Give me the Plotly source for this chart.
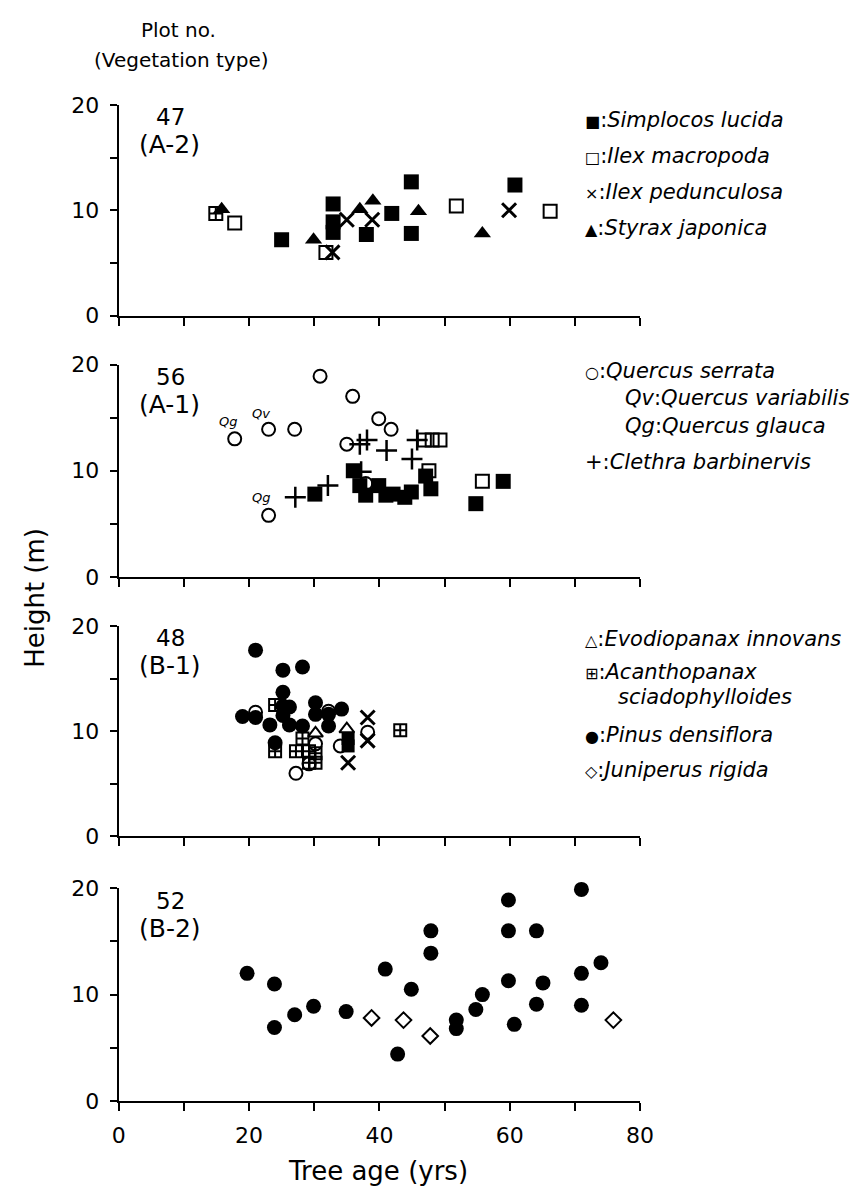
import plotly.graph_objects as go

# ---------------- data (tree age in yrs, height in m) ----------------
# Plot 47 (A-2)
p47_simplocos_age = [25.0, 32.9, 32.9, 32.9, 38.0, 41.9, 44.9, 44.9, 60.8]
p47_simplocos_h = [7.2, 10.6, 8.9, 7.9, 7.7, 9.7, 12.7, 7.8, 12.4]
p47_macropoda_age = [17.8, 31.8, 51.8, 66.2]
p47_macropoda_h = [8.8, 6.0, 10.4, 9.9]
p47_acanthopanax_age = [14.9]
p47_acanthopanax_h = [9.7]
p47_pedunculosa_age = [32.8, 35.0, 38.9, 59.9]
p47_pedunculosa_h = [6.0, 9.1, 9.1, 10.0]
p47_styrax_age = [15.8, 29.9, 37.0, 39.0, 46.0, 55.8]
p47_styrax_h = [10.1, 7.2, 10.1, 10.9, 9.9, 7.8]

# Plot 56 (A-1)
p56_serrata_age = [30.9, 35.9, 39.9, 41.8, 23.0, 27.0, 17.8, 35.0, 23.0, 37.9]
p56_serrata_h = [18.9, 17.0, 14.9, 13.9, 13.9, 13.9, 13.0, 12.5, 5.8, 8.8]
p56_macropoda_age = [46.9, 48.1, 49.3, 47.6, 55.8]
p56_macropoda_h = [12.9, 12.9, 12.9, 10.0, 9.0]
p56_simplocos_age = [30.1, 36.0, 37.0, 37.9, 39.9, 41.0, 42.1, 43.9, 44.9, 47.1, 47.9, 54.8, 59.0]
p56_simplocos_h = [7.8, 10.0, 8.6, 7.7, 8.6, 7.7, 7.8, 7.5, 8.0, 9.5, 8.3, 6.9, 9.0]
p56_clethra_age = [27.1, 32.1, 37.2, 37.0, 38.1, 41.1, 45.0, 45.8]
p56_clethra_h = [7.5, 8.6, 9.9, 12.5, 12.9, 11.9, 11.1, 12.9]
p56_label_text = ["Qg", "Qv", "Qg"]
p56_label_age = [16.8, 21.8, 21.8]
p56_label_h = [14.6, 15.4, 7.5]

# Plot 48 (B-1)
p48_pinus_age = [21.0, 25.2, 28.2, 25.2, 19.0, 21.0, 23.2, 25.2, 26.2, 25.2, 26.2, 28.2,
                 30.2, 30.2, 32.2, 32.2, 34.2, 24.0]
p48_pinus_h = [17.7, 15.8, 16.1, 13.7, 11.4, 11.3, 10.6, 12.4, 12.3, 11.5, 10.6, 10.5,
               12.7, 11.6, 11.6, 10.5, 12.1, 8.9]
p48_serrata_age = [21.0, 27.2, 29.2, 30.2, 32.2, 34.0, 38.2]
p48_serrata_h = [11.8, 6.0, 6.9, 8.8, 11.9, 8.6, 9.9]
p48_acanthopanax_age = [24.0, 24.0, 27.2, 28.2, 29.2, 30.2, 29.2, 30.2, 43.2]
p48_acanthopanax_h = [12.5, 8.1, 8.1, 9.3, 8.1, 7.9, 7.0, 7.0, 10.1]
p48_evodiopanax_age = [30.2, 35.0]
p48_evodiopanax_h = [9.8, 10.2]
p48_pedunculosa_age = [38.2, 38.2, 35.2]
p48_pedunculosa_h = [11.3, 9.1, 7.0]
p48_simplocos_age = [35.2, 35.2]
p48_simplocos_h = [8.6, 9.3]

# Plot 52 (B-2)
p52_pinus_age = [19.7, 23.9, 23.9, 27.0, 29.9, 34.9, 40.9, 42.8, 44.9, 47.9, 47.9, 51.8, 51.8,
                 54.8, 55.8, 59.8, 59.8, 59.8, 60.7, 64.1, 64.1, 65.1, 71.0, 71.0, 71.0, 74.0]
p52_pinus_h = [12.0, 11.0, 6.9, 8.1, 8.9, 8.4, 12.4, 4.4, 10.5, 16.0, 13.9, 7.6, 6.8,
               8.6, 10.0, 18.9, 16.0, 11.3, 7.2, 16.0, 9.1, 11.1, 19.9, 12.0, 9.0, 13.0]
p52_juniperus_age = [38.8, 43.7, 47.8, 75.9]
p52_juniperus_h = [7.8, 7.6, 6.1, 7.6]

panel_numbers = ["47", "56", "48", "52"]
panel_types = ["(A-2)", "(A-1)", "(B-1)", "(B-2)"]
x_tick_vals = [0, 10, 20, 30, 40, 50, 60, 70, 80]
x_tick_text = ["0", "", "20", "", "40", "", "60", "", "80"]
y_tick_vals = [0, 5, 10, 15, 20]
y_tick_text = ["0", "", "10", "", "20"]

legend_47 = [("■", "Simplocos lucida"), ("□", "Ilex macropoda"),
             ("×", "Ilex pedunculosa"), ("▲", "Styrax japonica")]
legend_48 = [("△", "Evodiopanax innovans"), ("⊞", "Acanthopanax"),
             ("", "sciadophylloides"), ("●", "Pinus densiflora"), ("◇", "Juniperus rigida")]

# ---------------- layout geometry ----------------
W, H = 856, 1200
FONT = "DejaVu Sans, Liberation Sans, Arial, sans-serif"
x_left_px, x_right_px = 114.5, 649.0
panel_px = [(95, 310), (360, 577), (627, 842), (895, 1112)]  # (top=20, bottom=0)

fig = go.Figure()

def sty(sym, size=14, lw=2):
    return dict(symbol=sym, size=size, color="black", line=dict(color="black", width=lw))

def add(i, xs, ys, sym, size=14, lw=2):
    ax = "" if i == 0 else str(i + 1)
    fig.add_trace(go.Scatter(x=xs, y=ys, mode="markers", marker=sty(sym, size, lw),
                             xaxis="x" + ax, yaxis="y" + ax, cliponaxis=False,
                             showlegend=False, hoverinfo="x+y"))

# panel 1
add(0, p47_macropoda_age, p47_macropoda_h, "square-open", 13)
add(0, p47_acanthopanax_age, p47_acanthopanax_h, "square-cross-open", 13)
add(0, p47_pedunculosa_age, p47_pedunculosa_h, "x-thin-open", 14, 3)
add(0, p47_styrax_age, p47_styrax_h, "triangle-up", 15, 0)
add(0, p47_simplocos_age, p47_simplocos_h, "square", 15, 0)
# panel 2
add(1, p56_serrata_age, p56_serrata_h, "circle-open", 13)
add(1, p56_macropoda_age, p56_macropoda_h, "square-open", 13)
add(1, p56_clethra_age, p56_clethra_h, "cross-thin-open", 15, 2.5)
add(1, p56_simplocos_age, p56_simplocos_h, "square", 15, 0)
# panel 3
add(2, p48_pinus_age, p48_pinus_h, "circle", 15, 0)
add(2, p48_simplocos_age, p48_simplocos_h, "square", 13, 0)
add(2, p48_serrata_age, p48_serrata_h, "circle-open", 13)
add(2, p48_acanthopanax_age, p48_acanthopanax_h, "square-cross-open", 12)
add(2, p48_evodiopanax_age, p48_evodiopanax_h, "triangle-up-open", 13)
add(2, p48_pedunculosa_age, p48_pedunculosa_h, "x-thin-open", 14, 3)
# panel 4
add(3, p52_pinus_age, p52_pinus_h, "circle", 15, 0)
add(3, p52_juniperus_age, p52_juniperus_h, "diamond-open", 12, 2)

layout = dict(width=W, height=H, margin=dict(l=0, r=0, t=0, b=0),
              paper_bgcolor="white", plot_bgcolor="white",
              font=dict(family=FONT, color="black"), showlegend=False)

axis_common = dict(showline=True, linecolor="black", linewidth=2, ticks="outside",
                   ticklen=7, tickwidth=2, tickcolor="black", showgrid=False,
                   zeroline=False, tickfont=dict(size=22, family=FONT, color="black"))
annotations = []
for i, (top, bot) in enumerate(panel_px):
    ax = "" if i == 0 else str(i + 1)
    xd = [x_left_px / W, x_right_px / W]
    yd = [1 - bot / H, 1 - top / H]
    layout["xaxis" + ax] = dict(axis_common, domain=xd, range=[0, 80], anchor="y" + ax,
                                tickmode="array", tickvals=x_tick_vals,
                                ticktext=x_tick_text if i == 3 else [""] * len(x_tick_vals),
                                ticklen=8, ticklabelstandoff=6)
    layout["yaxis" + ax] = dict(axis_common, domain=yd, range=[0, 20], anchor="x" + ax,
                                tickmode="array", tickvals=y_tick_vals, ticktext=y_tick_text,
                                ticklabelstandoff=6)
    annotations.append(dict(xref="x" + ax, yref="y" + ax, x=7.9, y=18.85, text=panel_numbers[i],
                            showarrow=False, font=dict(size=23), xanchor="center", yanchor="middle"))
    annotations.append(dict(xref="x" + ax, yref="y" + ax, x=7.8, y=16.25, text=panel_types[i],
                            showarrow=False, font=dict(size=25), xanchor="center", yanchor="middle"))

for t, xa, ya in zip(p56_label_text, p56_label_age, p56_label_h):
    annotations.append(dict(xref="x2", yref="y2", x=xa, y=ya, text="<i>%s</i>" % t,
                            showarrow=False, font=dict(size=13), xanchor="center", yanchor="middle"))

def ptext(x, y, text, size=18, xanchor="left"):
    annotations.append(dict(xref="paper", yref="paper", x=x / W, y=1 - y / H, text=text,
                            showarrow=False, font=dict(size=size, family=FONT),
                            xanchor=xanchor, yanchor="middle", align="left"))

def sym(s):
    return '<span style="font-size:16px">%s</span>' % s

# headers and axis titles
ptext(176, 18, "Plot no.", 20, "center")
ptext(178, 49, "(Vegetation type)", 20, "center")
ptext(380, 1184, "Tree age (yrs)", 26, "center")
annotations.append(dict(xref="paper", yref="paper", x=28 / W, y=1 - 598 / H, text="Height (m)",
                        textangle=-90, showarrow=False, font=dict(size=26, family=FONT),
                        xanchor="center", yanchor="middle"))

# legends
LF = 21
for k, (s, name) in enumerate(legend_47):
    ptext(590, 110 + 37 * k, "%s:<i>%s</i>" % (sym(s), name), LF)
ind = "&nbsp;" * 6
ptext(590, 395, "%s:<i>Quercus serrata</i><br>%s<i>Qv</i>:<i>Quercus variabilis</i><br>"
      "%s<i>Qg</i>:<i>Quercus glauca</i>" % (sym("○"), ind, ind), LF)
ptext(590, 460, "+:<i>Clethra barbinervis</i>", LF)
leg48_y = [640, 674, 700, 738, 774]
for (s, name), yy in zip(legend_48, leg48_y):
    if s:
        ptext(590, yy, "%s:<i>%s</i>" % (sym(s), name), LF)
    else:
        ptext(624, yy, "<i>%s</i>" % name, LF)

layout["annotations"] = annotations
fig.update_layout(**layout)
fig.write_html("out.html")
